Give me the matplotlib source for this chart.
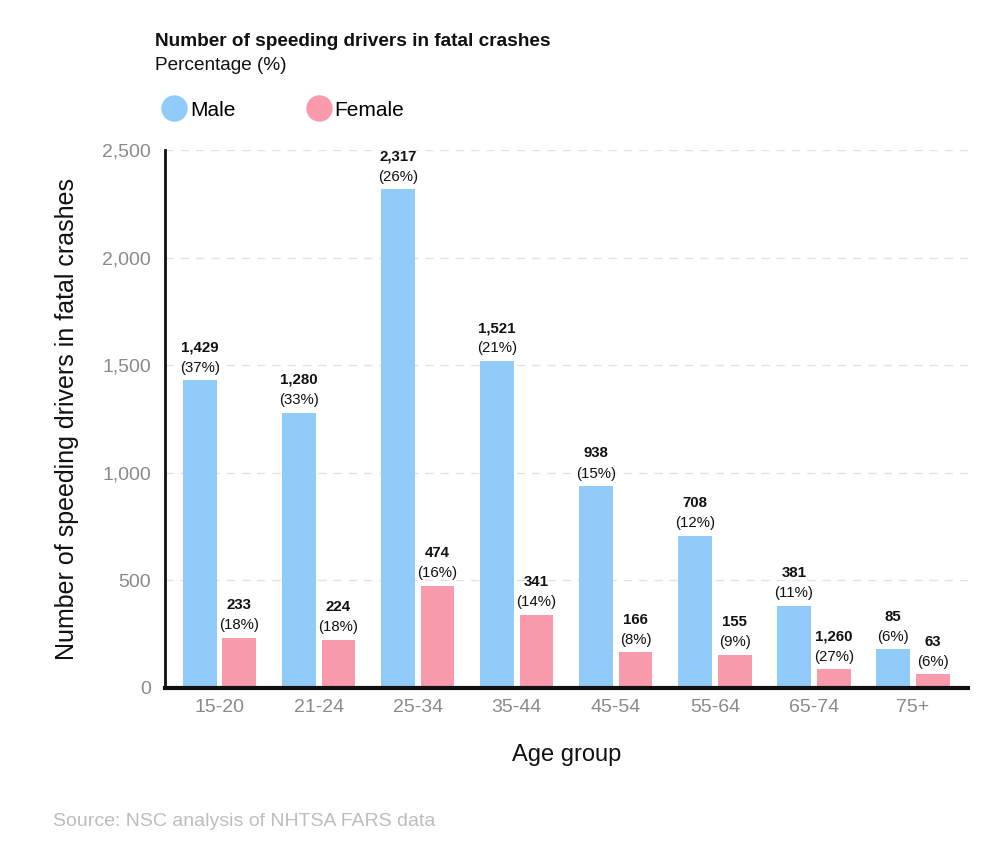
import numpy as np
import matplotlib.pyplot as plt
from matplotlib.lines import Line2D

plt.rcParams['font.family'] = ['Liberation Sans', 'DejaVu Sans']

age_groups = ['15-20', '21-24', '25-34', '35-44', '45-54', '55-64', '65-74', '75+']
# bar heights as drawn in the reference
male_bars = [1429, 1280, 2317, 1521, 938, 708, 381, 180]
female_bars = [233, 224, 474, 341, 166, 155, 88, 63]
# labels printed above the bars
male_counts = ['1,429', '1,280', '2,317', '1,521', '938', '708', '381', '85']
male_pcts = ['(37%)', '(33%)', '(26%)', '(21%)', '(15%)', '(12%)', '(11%)', '(6%)']
female_counts = ['233', '224', '474', '341', '166', '155', '1,260', '63']
female_pcts = ['(18%)', '(18%)', '(16%)', '(14%)', '(8%)', '(9%)', '(27%)', '(6%)']

blue = '#90cbf9'
pink = '#f99aad'

fig = plt.figure(figsize=(10, 8.68), dpi=100)
ax = fig.add_axes([0.165, 0.2074, 0.803, 0.6198])

x = np.arange(len(age_groups))
w = 0.34
off = 0.2
ax.bar(x - off, male_bars, w, color=blue, zorder=2)
ax.bar(x + off, female_bars, w, color=pink, zorder=2)

def label(xs, vals, counts, pcts):
    for xi, v, c, p in zip(xs, vals, counts, pcts):
        ax.annotate(p, (xi, v), xytext=(0, 9), textcoords='offset points',
                    ha='center', va='center', fontsize=10.8, color='#111111')
        ax.annotate(c, (xi, v), xytext=(0, 23.5), textcoords='offset points',
                    ha='center', va='center', fontsize=10.8, color='#111111',
                    fontweight='bold')

label(x - off, male_bars, male_counts, male_pcts)
label(x + off, female_bars, female_counts, female_pcts)

ax.set_xlim(-0.55, 7.555)
ax.set_ylim(0, 2500)
ax.set_yticks([0, 500, 1000, 1500, 2000, 2500])
ax.set_yticklabels(['0', '500', '1,000', '1,500', '2,000', '2,500'])
ax.set_xticks(x)
ax.set_xticklabels(age_groups)
ax.tick_params(axis='both', length=0, labelsize=14, labelcolor='#8a8a8a')
ax.tick_params(axis='x', pad=8)
ax.tick_params(axis='y', pad=10)
ax.yaxis.grid(True, linestyle=(0, (6, 5)), color='#e2e2e2', linewidth=1, zorder=0)
ax.set_axisbelow(True)

for s in ['top', 'right']:
    ax.spines[s].set_visible(False)
ax.spines['left'].set_linewidth(2)
ax.spines['bottom'].set_linewidth(3)
ax.spines['left'].set_color('#111111')
ax.spines['bottom'].set_color('#111111')

ax.set_ylabel('Number of speeding drivers in fatal crashes', fontsize=18,
              color='#111111', labelpad=17)
ax.set_xlabel('Age group', fontsize=17, color='#111111', labelpad=20)

fig.text(0.155, 1 - 42 / 868, 'Number of speeding drivers in fatal crashes',
         fontsize=13.7, fontweight='bold', va='center', ha='left', color='#111111')
fig.text(0.155, 1 - 65 / 868, 'Percentage (%)', fontsize=13.7,
         va='center', ha='left', color='#111111')

handles = [Line2D([], [], marker='o', linestyle='', markersize=18, color=blue),
           Line2D([], [], marker='o', linestyle='', markersize=18, color=pink)]
fig.legend(handles, ['Male', 'Female'], loc='center left',
           bbox_to_anchor=(0.143, 1 - 110 / 868), ncol=2, frameon=False,
           fontsize=15, handletextpad=0.15, columnspacing=3.4,
           handlelength=1.2)

fig.text(0.053, 1 - 822 / 868, 'Source: NSC analysis of NHTSA FARS data',
         fontsize=14, color='#bdbdbd', va='center', ha='left')

plt.savefig('out.png', dpi=100)
